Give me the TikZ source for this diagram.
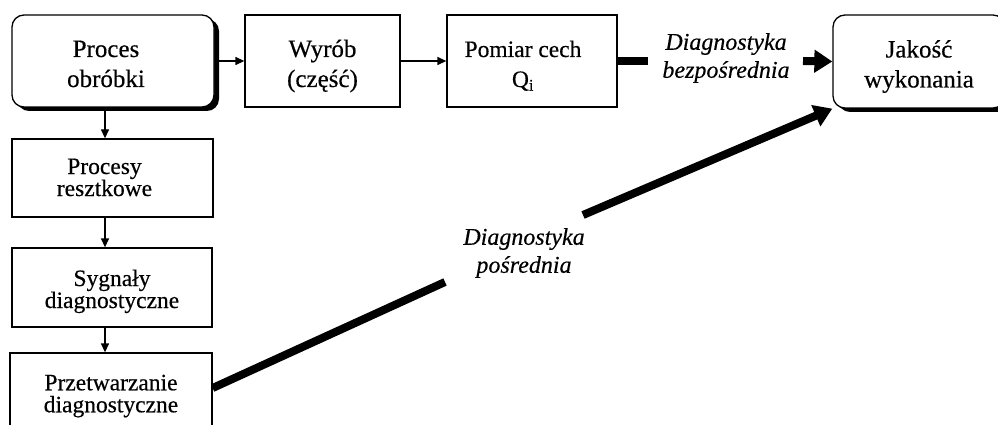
\documentclass[tikz,border=0pt]{standalone}
\usepackage{fontspec}
\setmainfont{Liberation Serif}[FakeBold=0.4]
\usetikzlibrary{arrows.meta,shadows}
% two centred lines; #2 = height kept above the first baseline,
% optional #1 = extra space after each line (moves the text to the left)
\newcommand{\twoline}[4][0pt]{%
  \rule{0pt}{#2}#3\rule{#1}{0pt}\\#4\rule{#1}{0pt}\rule[-6pt]{0pt}{6pt}}
\begin{document}
\begin{tikzpicture}[x=1pt,y=-1pt,
  box/.style={draw, line width=1.3pt, fill=white, inner sep=0pt, align=center,
    font=\fontsize{25}{30}\selectfont},
  rbox/.style={box, rounded corners=12pt,
    drop shadow={shadow xshift=5pt, shadow yshift=-4pt, fill=black, opacity=1}},
  lbox/.style={box, font=\fontsize{23.5}{22}\selectfont},
  flow/.style={line width=1.3pt, -{Triangle[length=9pt,width=8pt]}},
  heavy/.style={line width=8pt},
  heavyarrow/.style={line width=8pt, -{Triangle[length=18pt,width=22pt]}},
  lab/.style={font=\fontsize{24}{28}\selectfont\itshape, align=center, inner sep=0pt}
]
\clip (0,0) rectangle (998,425);

% top row
\node[rbox, minimum width=202pt, minimum height=92pt] (proc) at (113,61)
  {\twoline[14pt]{28pt}{Proces}{obróbki}};
\node[box,  minimum width=155pt, minimum height=92pt] (wyr)  at (322.5,61)
  {\twoline{28pt}{Wyrób}{(część)}};
\node[box,  minimum width=170pt, minimum height=92pt, font=\fontsize{23.5}{30}\selectfont] (pom) at (532,61)
  {\twoline[18pt]{28pt}{Pomiar cech}{Q\textsubscript{i}}};
\node[rbox, minimum width=172pt, minimum height=93pt] (jak)  at (919,61.5)
  {\twoline{28pt}{Jakość}{wykonania}};

% left column
\node[lbox, minimum width=201pt, minimum height=78pt] (rest) at (112.5,178)
  {\twoline[16pt]{20pt}{Procesy}{resztkowe}};
\node[lbox, minimum width=200pt, minimum height=79pt] (syg)  at (112,287.5)
  {\twoline{25pt}{Sygnały}{diagnostyczne}};
\node[lbox, minimum width=202pt, minimum height=87pt] (prz)  at (111,396.5)
  {\twoline{15pt}{Przetwarzanie}{diagnostyczne}};

% labels of the two diagnostic paths
\node[lab] (dbez) at (726,58) {Diagnostyka\\bezpośrednia};
\node[lab] (dpos) at (524,253) {Diagnostyka\\pośrednia};

% free ends of the heavy connectors
\coordinate (col) at (105,0);
\coordinate (b1) at (648,61);
\coordinate (b2) at (803,61);
\coordinate (p1) at (445,282);
\coordinate (p2) at (583,215);

% thin flow arrows
\draw[flow] (proc.east) -- (wyr.west);
\draw[flow] (wyr.east) -- (pom.west);
\draw[flow] (proc.south -| col) -- (rest.north -| col);
\draw[flow] (rest.south -| col) -- (syg.north -| col);
\draw[flow] (syg.south -| col) -- (prz.north -| col);

% heavy diagnostic connectors
\draw[heavy] (pom.east) -- (b1);
\draw[heavyarrow] (b2) -- (jak.west);
\draw[heavy] ([yshift=8.5pt]prz.east) -- (p1);
\draw[heavyarrow] (p2) -- (jak.south west);
\end{tikzpicture}
\end{document}
